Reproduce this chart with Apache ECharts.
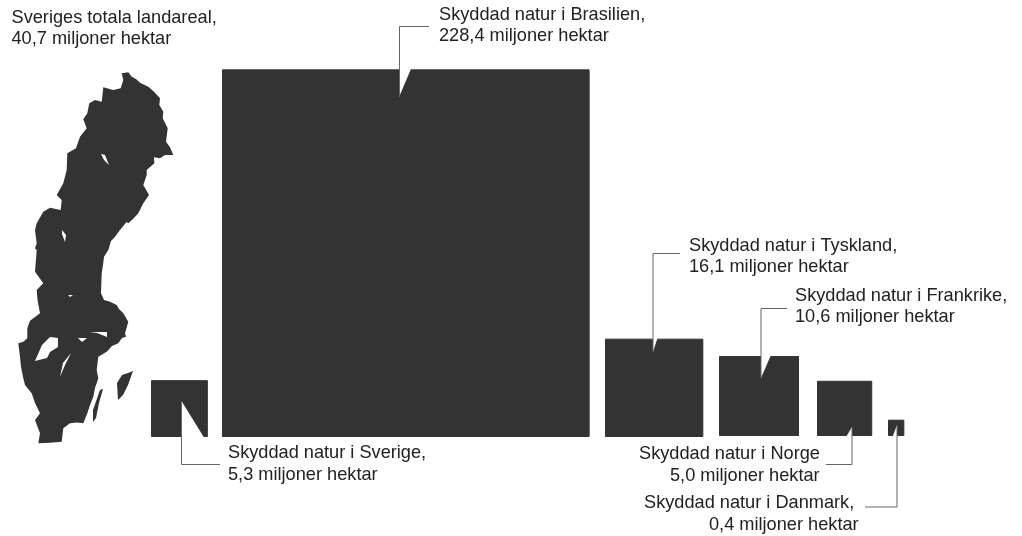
<!DOCTYPE html>
<html>
<head>
<meta charset="utf-8">
<title>Skyddad natur</title>
<script src="https://cdn.jsdelivr.net/npm/echarts@6/dist/echarts.min.js"></script>
<style>
  html, body { margin: 0; padding: 0; background: #fff; }
  #chart { width: 1022px; height: 536px; }
</style>
</head>
<body>
<div id="chart"></div>
<script>
// values, million hectares
const countries = ['Sverige', 'Brasilien', 'Tyskland', 'Frankrike', 'Norge', 'Danmark'];
const hectares = [5.3, 228.4, 16.1, 10.6, 5.0, 0.4];

const labelLines = [
  'Sveriges totala landareal,', '40,7 miljoner hektar',
  'Skyddad natur i Brasilien,', '228,4 miljoner hektar',
  'Skyddad natur i Tyskland,', '16,1 miljoner hektar',
  'Skyddad natur i Frankrike,', '10,6 miljoner hektar',
  'Skyddad natur i Sverige,', '5,3 miljoner hektar',
  'Skyddad natur i Norge', '5,0 miljoner hektar',
  'Skyddad natur i Danmark,', '0,4 miljoner hektar'
];

// layout, in page pixels
const squareLeft = [151.5, 222.5, 605.5, 719.5, 817.5, 888.5];
const squareBottom = [436.5, 436.5, 436.5, 435.5, 435.5, 435.5];
const pxPerRootHa = 24.26;
const labelPos = [
  [11.5, 17.5], [11.5, 39], [439, 15], [439, 36], [689, 246], [689, 267], [795, 296], [795, 317],
  [228, 453], [228, 475], [639, 454], [670, 476], [644, 503], [709, 525]
];
const notches = [
  [[181.5, 401], [181.5, 437.5], [204, 437.5]],
  [[399, 69], [411, 69], [399, 97]],
  [[653, 338], [657.5, 338], [653, 352]],
  [[761, 355], [771, 355], [761, 378]],
  [[846, 437], [852, 437], [852, 427]],
  [[892.5, 437], [897, 437], [897, 425]]
];
const leaders = [
  [[181.5, 401], [181.5, 464.5], [220, 464.5]],
  [[399.5, 97], [399.5, 26.5], [429, 26.5]],
  [[653, 352], [653, 253.5], [680, 253.5]],
  [[761, 378], [761, 308.5], [787, 308.5]],
  [[852, 427], [852, 464.5], [826, 464.5]],
  [[897, 425], [897, 507], [865, 507]]
];

// outline of Sweden, page pixels
const sweden = [
  [121.7, 73.3], [128.3, 72.3], [131.7, 76.7], [136, 79], [140, 82.7], [148.3, 86.7], [154, 91.7], [160, 98.3],
  [159.3, 105], [163.3, 111.7], [162.7, 118.3], [167.7, 128.3], [166, 141.7], [170, 147.3], [173.3, 155],
  [165, 155], [160, 158.3], [154, 157.3], [154.3, 163.3], [146.7, 170], [146.7, 175], [143.3, 185], [149, 195],
  [143.3, 203.3], [138.3, 213.3], [133, 219], [128.3, 223.3], [126.5, 222], [120, 230], [115, 236.7], [111, 241], [108.3, 250], [104, 256.7],
  [103, 265], [101.7, 273.3], [101, 293.3], [104, 300], [110, 301.7], [116.7, 305], [119, 309], [123.3, 313.3], [128.3, 321.7], [125, 333.3],
  [126, 336.7], [122, 338], [118.3, 343.3], [112, 346], [106.7, 351.7], [98.3, 356.7], [96.7, 370], [98.3, 378.3], [95, 388], [93.3, 396.7],
  [90, 405], [87.3, 413.3], [83.3, 423.3], [77, 422.5], [70, 423.3], [63.3, 428.3], [61.7, 441.7], [50, 442.7], [38.3, 443.3],
  [40, 433.3], [35, 420], [40, 413.3], [35, 403], [31.7, 393.3], [25, 385], [23.3, 378.3], [21, 367], [20, 356.7], [18.3, 343.3], [23.3, 341.7],
  [27.3, 338.3], [27.3, 328.3], [30, 320.7], [40, 313.3], [37.5, 300], [36.7, 290], [43.3, 283.3], [35, 271.7], [36.7, 250],
  [35, 248.3], [36.7, 243.3], [35, 230], [36.7, 223.3], [43.3, 211.7], [50, 207.7], [60.7, 210], [61.7, 200],
  [56.7, 195], [63.3, 183.3], [66.7, 170], [67.3, 153.3], [76, 148.3], [80, 136.7], [86.7, 128.3], [83.3, 119.3],
  [87.3, 113.3], [89.3, 103.3], [95, 100], [101.7, 101.7], [103.3, 87.3], [113.3, 90], [120.7, 88.3], [123.3, 80]
];
const swedenIslands = [
  [[133, 371], [128, 373], [122, 375], [117, 383], [118, 400], [123, 395], [128, 385]],
  [[103, 389], [100, 390], [93, 410], [93, 422], [96, 418], [99, 403]]
];
const swedenLakes = [
  [[50, 337], [58, 338], [58, 347], [50, 352], [47, 358], [35, 361], [42, 345]],
  [[71, 353], [65, 365], [60, 377], [63, 363]],
  [[78, 338], [87, 338], [82, 342]],
  [[90, 332], [107, 332], [107, 337], [97, 333]],
  [[68, 295], [73, 295], [70, 297]],
  [[62, 230], [66, 235], [65, 242], [62, 234]],
  [[101, 154], [105, 155], [109, 165], [104, 160]]
];

const INK = '#333333';
const LEADER = '#666666';

const chart = echarts.init(document.getElementById('chart'));

function polyOn(api, pts, fill) {
  return {
    type: 'polygon',
    shape: { points: pts.map(p => api.coord(p)) },
    style: { fill: fill }
  };
}

chart.setOption({
  animation: false,
  backgroundColor: '#fff',
  grid: { left: 0, right: 0, top: 0, bottom: 0 },
  xAxis: { type: 'value', min: 0, max: 1022, show: false },
  yAxis: { type: 'value', min: 0, max: 536, inverse: true, show: false },
  series: [
    {
      // the map
      type: 'custom',
      clip: false,
      silent: true,
      data: [0],
      renderItem: (params, api) => ({
        type: 'group',
        children: [
          polyOn(api, sweden, INK),
          ...swedenIslands.map(s => polyOn(api, s, INK)),
          ...swedenLakes.map(s => polyOn(api, s, '#fff'))
        ]
      })
    },
    {
      // one square per country, area follows the hectares
      type: 'custom',
      clip: false,
      silent: true,
      data: hectares.map((v, i) => [squareLeft[i], squareBottom[i], v, countries[i]]),
      encode: { x: 0, y: 1 },
      renderItem: (params, api) => {
        const side = Math.sqrt(api.value(2)) * pxPerRootHa;
        const p = api.coord([api.value(0), api.value(1)]);
        return {
          type: 'rect',
          shape: { x: p[0], y: p[1] - side, width: side, height: side },
          style: { fill: INK, stroke: INK, lineWidth: 1 }
        };
      }
    },
    {
      // notches and leader lines
      type: 'custom',
      clip: false,
      silent: true,
      data: leaders.map((l, i) => i),
      z: 3,
      renderItem: (params, api) => {
        const i = api.value(0);
        return {
          type: 'group',
          children: [
            polyOn(api, notches[i], '#fff'),
            {
              type: 'polyline',
              shape: { points: leaders[i].map(p => api.coord(p)) },
              style: { stroke: LEADER, lineWidth: 1, fill: null }
            }
          ]
        };
      }
    },
    {
      type: 'custom',
      clip: false,
      silent: true,
      data: labelLines.map((t, i) => [labelPos[i][0], labelPos[i][1], t]),
      z: 4,
      renderItem: (params, api) => {
        const p = api.coord([api.value(0), api.value(1)]);
        return {
          type: 'text',
          x: p[0],
          y: p[1],
          style: {
            text: labelLines[params.dataIndex],
            font: '18.2px "Liberation Sans", Arial, sans-serif',
            fill: '#222',
            align: 'left',
            verticalAlign: 'middle'
          }
        };
      }
    }
  ]
});
</script>
</body>
</html>
